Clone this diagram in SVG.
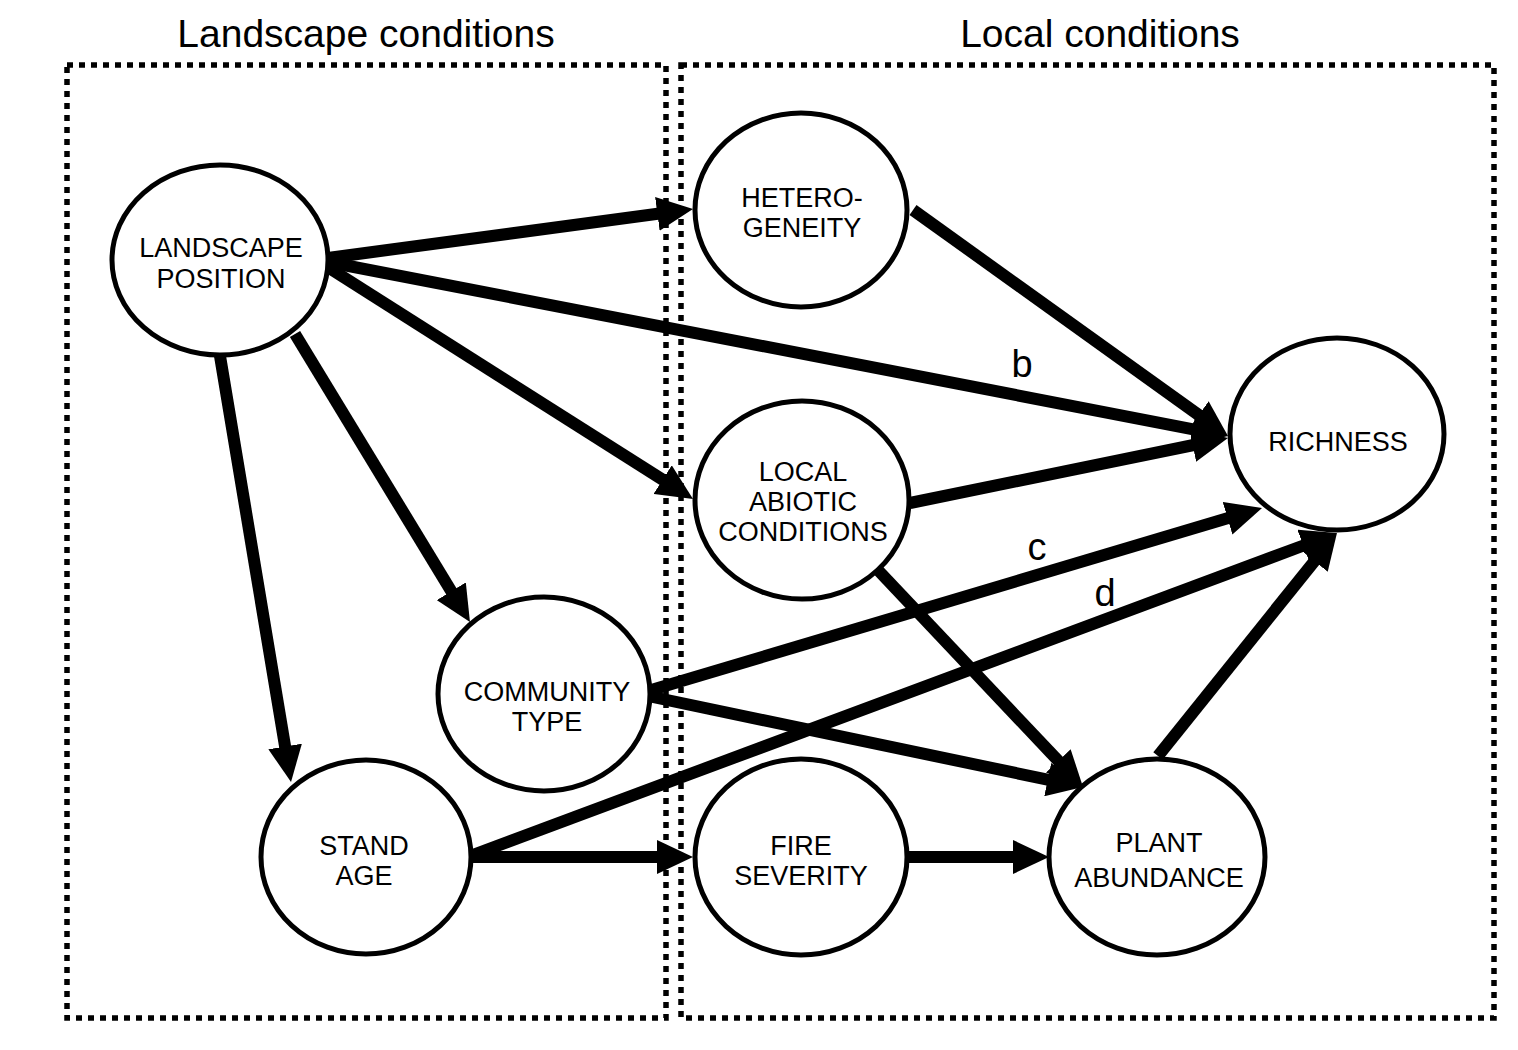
<svg xmlns="http://www.w3.org/2000/svg" width="1518" height="1050" viewBox="0 0 1518 1050">
<style>
.box{fill:none;stroke:#000;stroke-width:5.5;stroke-dasharray:6 6}
.title{font-family:"Liberation Sans",Arial,sans-serif;font-size:39px;fill:#000;text-anchor:middle}
.node ellipse{fill:#fff;stroke:#000;stroke-width:5}
.node text{font-family:"Liberation Sans",Arial,sans-serif;font-size:27px;fill:#000;text-anchor:middle}
.edge{stroke:#000;stroke-width:12;fill:none;marker-end:url(#ah)}
.lbl{font-family:"Liberation Sans",Arial,sans-serif;font-size:38px;fill:#000;text-anchor:middle}
</style>
<defs>
<marker id="ah" markerUnits="userSpaceOnUse" markerWidth="36" markerHeight="34" refX="6" refY="17" orient="auto" viewBox="0 0 36 34">
<path d="M0,0 L36,17 L0,34 z" fill="#000"/>
</marker>
</defs>
<rect width="1518" height="1050" fill="#fff"/>
<g id="frames">
<rect class="box" x="67" y="65" width="599" height="953"/>
<rect class="box" x="681" y="65" width="813" height="953"/>
<text class="title" x="366" y="47">Landscape conditions</text>
<text class="title" x="1100" y="47">Local conditions</text>
</g>
<g id="connectors">
<line class="edge" x1="328" y1="258" x2="663.3" y2="213"/>
<line class="edge" x1="328" y1="262" x2="1198.5" y2="430.3"/>
<line class="edge" x1="326" y1="266" x2="667.7" y2="482.9"/>
<line class="edge" x1="295" y1="334" x2="454.4" y2="596.4"/>
<line class="edge" x1="220" y1="356" x2="286.1" y2="752.4"/>
<line class="edge" x1="913" y1="210" x2="1203.6" y2="418.5"/>
<line class="edge" x1="910" y1="503" x2="1198.6" y2="444"/>
<line class="edge" x1="876" y1="568" x2="1062.4" y2="765.2"/>
<line class="edge" x1="648" y1="691" x2="1233.3" y2="516.6"/>
<line class="edge" x1="648" y1="696" x2="1053.6" y2="780.9"/>
<line class="edge" x1="470" y1="856" x2="1308.9" y2="543.5"/>
<line class="edge" x1="470" y1="857" x2="663" y2="857"/>
<line class="edge" x1="908" y1="857" x2="1019" y2="857"/>
<line class="edge" x1="1158" y1="756" x2="1318.2" y2="556.4"/>
<text class="lbl" x="1022" y="377">b</text>
<text class="lbl" x="1037" y="560">c</text>
<text class="lbl" x="1105" y="606">d</text>
</g>
<g id="landscape-position" class="node">
<ellipse cx="220" cy="260" rx="108" ry="95"/>
<text x="221" y="257">LANDSCAPE</text>
<text x="221" y="288">POSITION</text>
</g>
<g id="heterogeneity" class="node">
<ellipse cx="801" cy="210" rx="106" ry="97"/>
<text x="802" y="207">HETERO-</text>
<text x="802" y="237">GENEITY</text>
</g>
<g id="local-abiotic" class="node">
<ellipse cx="802" cy="500" rx="107" ry="99"/>
<text x="803" y="481">LOCAL</text>
<text x="803" y="511">ABIOTIC</text>
<text x="803" y="541">CONDITIONS</text>
</g>
<g id="community-type" class="node">
<ellipse cx="544" cy="694" rx="106" ry="97"/>
<text x="547" y="701">COMMUNITY</text>
<text x="547" y="731">TYPE</text>
</g>
<g id="stand-age" class="node">
<ellipse cx="366" cy="857" rx="105" ry="97"/>
<text x="364" y="855">STAND</text>
<text x="364" y="885">AGE</text>
</g>
<g id="fire-severity" class="node">
<ellipse cx="801" cy="857" rx="106" ry="98"/>
<text x="801" y="855">FIRE</text>
<text x="801" y="885">SEVERITY</text>
</g>
<g id="plant-abundance" class="node">
<ellipse cx="1157" cy="857" rx="108" ry="98"/>
<text x="1159" y="852">PLANT</text>
<text x="1159" y="887">ABUNDANCE</text>
</g>
<g id="richness" class="node">
<ellipse cx="1337" cy="434" rx="107" ry="96"/>
<text x="1338" y="451">RICHNESS</text>
</g>
</svg>
